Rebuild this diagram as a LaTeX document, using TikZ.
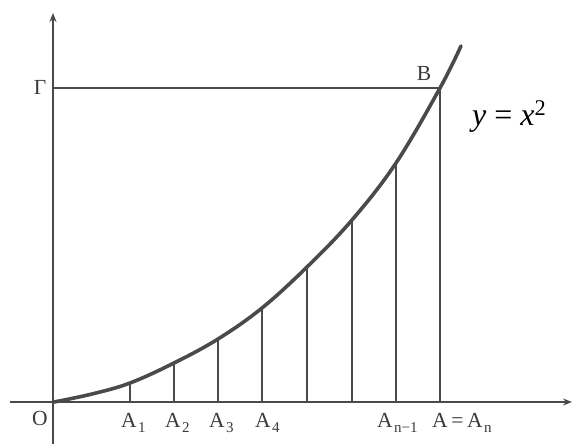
\documentclass[tikz,border=0pt]{standalone}
\usepackage{fontspec}
\setmainfont{Liberation Serif}
\usetikzlibrary{arrows.meta}
\definecolor{ink}{HTML}{4a4a4a}
\definecolor{txt}{HTML}{3a3a3a}
\newcommand{\lsub}[1]{\kern1.5pt\raisebox{-5pt}{\fontsize{15}{15}\selectfont #1}}
\begin{document}
\begin{tikzpicture}[x=1pt,y=-1pt,
  axis/.style={draw=ink,line width=2pt,-{Stealth[length=9pt,width=7pt]}},
  ordline/.style={draw=ink,line width=1.8pt},
  curveline/.style={draw=ink,line width=3.6pt,line cap=round},
  lbl/.style={text=txt,font=\fontsize{21.5}{24}\selectfont,inner sep=0pt},
  eq/.style={text=black,font=\fontsize{32}{36}\selectfont,inner sep=0pt}]
\useasboundingbox (0,0) rectangle (572,444);
% axes
\coordinate (xl) at (10,402);
\coordinate (xr) at (572,402);
\coordinate (yb) at (53,444);
\coordinate (yt) at (53,13);
\draw[axis] (xl) -- (xr);
\draw[axis] (yb) -- (yt);
% points
\coordinate (O) at (54,402);
\coordinate (G) at (53,88);
\coordinate (B) at (440,88);
\foreach \i/\x/\y in {1/130/383,2/174/363,3/218/339,4/262/308,5/307/267,6/352/220,7/396/163}{
  \coordinate (t\i) at (\x,\y);
  \coordinate (f\i) at (\x,402);
}
\coordinate (fA) at (440,402);
% ordinates
\foreach \i in {1,...,7}{\draw[ordline] (f\i) -- (t\i);}
\draw[ordline] (fA) -- (B);
\draw[ordline] (G) -- (B);
% curve
\draw[curveline] plot[smooth,tension=0.6] coordinates {(54,402) (92,394) (130,383) (174,363) (218,339) (262,308) (307,267) (352,220) (396,163) (440,88) (461,46)};
% labels
\node[lbl] (lO) at (40,418) {O};
\node[lbl] (lG) at (40,87) {Γ};
\node[lbl] (lB) at (424,73) {B};
\node[lbl,anchor=base west] (l1) at (121,427) {A\lsub{1}};
\node[lbl,anchor=base west] (l2) at (165,427) {A\lsub{2}};
\node[lbl,anchor=base west] (l3) at (209,427) {A\lsub{3}};
\node[lbl,anchor=base west] (l4) at (255,427) {A\lsub{4}};
\node[lbl,anchor=base west] (ln1) at (377,427) {A\lsub{n−1}};
\node[lbl,anchor=base west] (ln) at (432,427) {A\,=\,A\lsub{n}};
\node[eq,anchor=base west] (leq) at (472,125) {\textit{y} = \textit{x}\textsuperscript{2}};
\end{tikzpicture}
\end{document}
